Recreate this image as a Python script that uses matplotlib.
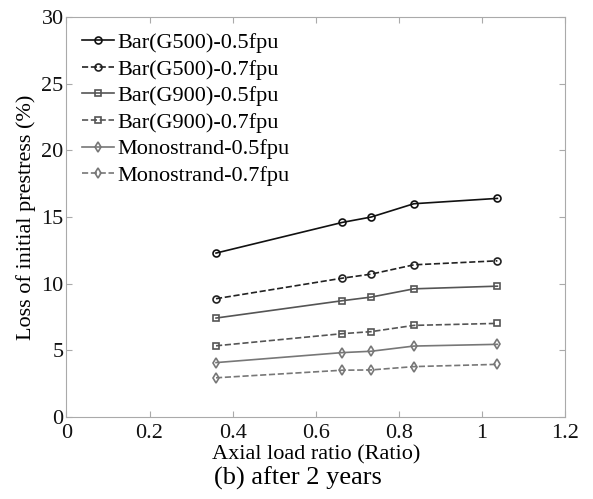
import matplotlib.pyplot as plt

# Axial load ratio values
ratio = [0.36, 0.664, 0.733, 0.836, 1.037]

# Loss of initial prestress (%) after 2 years
bar500_05 = [12.3, 14.6, 15.0, 16.0, 16.4]
bar500_07 = [8.88, 10.42, 10.72, 11.42, 11.72]
bar900_05 = [7.43, 8.73, 9.0, 9.62, 9.82]
bar900_07 = [5.35, 6.26, 6.41, 6.88, 7.03]
mono_05 = [4.09, 4.84, 4.94, 5.33, 5.46]
mono_07 = [2.95, 3.52, 3.54, 3.79, 3.96]

labels = ['Bar(G500)-0.5fpu', 'Bar(G500)-0.7fpu', 'Bar(G900)-0.5fpu',
          'Bar(G900)-0.7fpu', 'Monostrand-0.5fpu', 'Monostrand-0.7fpu']

plt.rcParams['font.family'] = ['Liberation Serif', 'DejaVu Serif']

fig = plt.figure(figsize=(5.93, 4.99), dpi=100)
ax = fig.add_axes([0.112, 0.164, 0.841, 0.802])

series = [bar500_05, bar500_07, bar900_05, bar900_07, mono_05, mono_07]
styles = [('-', 'o', '#111111'), ('--', 'o', '#222222'),
          ('-', 's', '#555555'), ('--', 's', '#555555'),
          ('-', 'd', '#777777'), ('--', 'd', '#777777')]

for data, (ls, mk, col), lab in zip(series, styles, labels):
    ax.plot(ratio, data, linestyle=ls, marker=mk, color=col, label=lab,
            markersize=5, markerfacecolor='none', markeredgecolor=col,
            markeredgewidth=1.2, linewidth=1.2)

ax.set_xlim(0, 1.2)
ax.set_ylim(0, 30)
ax.set_xticks([0, 0.2, 0.4, 0.6, 0.8, 1.0, 1.2])
ax.set_xticklabels(['0', '0.2', '0.4', '0.6', '0.8', '1', '1.2'])
ax.set_yticks([0, 5, 10, 15, 20, 25, 30])

for sp in ax.spines.values():
    sp.set_color('#aaaaaa')
ax.tick_params(direction='in', top=True, right=True, colors='#aaaaaa',
               labelcolor='#111111', labelsize=16, length=4)
ax.tick_params(axis='x', pad=5)
ax.tick_params(axis='y', pad=2)

ax.set_ylabel('Loss of initial prestress (%)', fontsize=16, labelpad=4)

ax.legend(loc='upper left', frameon=False, fontsize=16, handlelength=1.45,
          handletextpad=0.15, labelspacing=0.27, borderaxespad=0.4,
          borderpad=0.3)

fig.text(0.533, (499 - 455) / 499, 'Axial load ratio (Ratio)', ha='center',
         va='center', fontsize=16)
fig.text(0.503, (499 - 478) / 499, '(b) after 2 years', ha='center',
         va='center', fontsize=19)

fig.savefig('out.png', dpi=100)
